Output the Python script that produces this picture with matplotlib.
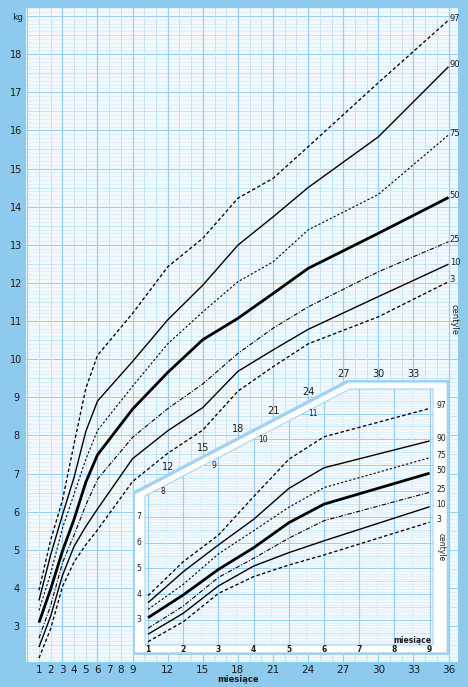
import matplotlib
matplotlib.use('Agg')
import matplotlib.pyplot as plt
from matplotlib.patches import Polygon
import matplotlib.transforms as mtransforms
import numpy as np

# ---------------- data ----------------
months = [1, 2, 3, 4, 5, 6, 9, 12, 15, 18, 21, 24, 30, 36]
p97 = [3.94, 5.26, 6.29, 7.78, 9.23, 10.10, 11.20, 12.42, 13.17, 14.22, 14.74, 15.57, 17.25, 18.89]
p90 = [3.67, 4.87, 5.91, 6.90, 8.10, 8.90, 9.94, 11.03, 11.94, 12.99, 13.73, 14.50, 15.83, 17.67]
p75 = [3.41, 4.38, 5.56, 6.46, 7.37, 8.13, 9.29, 10.40, 11.24, 12.03, 12.55, 13.39, 14.32, 15.88]
p50 = [3.09, 3.97, 4.96, 5.80, 6.77, 7.49, 8.69, 9.65, 10.51, 11.07, 11.72, 12.38, 13.30, 14.24]
p25 = [2.68, 3.54, 4.65, 5.39, 6.17, 6.85, 7.95, 8.70, 9.35, 10.15, 10.81, 11.37, 12.29, 13.08]
p10 = [2.45, 3.26, 4.32, 5.09, 5.61, 6.07, 7.39, 8.12, 8.73, 9.68, 10.24, 10.78, 11.64, 12.49]
p3 = [2.16, 2.93, 4.03, 4.68, 5.13, 5.52, 6.79, 7.53, 8.14, 9.16, 9.80, 10.40, 11.11, 12.03]
centile_names = ['97', '90', '75', '50', '25', '10', '3']
centile_values = [p97, p90, p75, p50, p25, p10, p3]

main_xticks = [1, 2, 3, 4, 5, 6, 7, 8, 9, 12, 15, 18, 21, 24, 27, 30, 33, 36]
main_yticks = list(range(3, 19))
inset_months_max = 9
inset_xticks = [1, 2, 3, 4, 5, 6, 7, 8, 9]
inset_yticks_left = [3, 4, 5, 6, 7]
inset_yticks_diag = [8, 9, 10, 11]
diag_month_labels = [12, 15, 18, 21, 24, 27, 30, 33]

# ---------------- style ----------------
FRAME = '#8ecaee'
FACE = '#f2f9fe'
MAJ = '#9acdee'
MID = '#bcdff5'
MIN = '#d6ebf9'
BORDER = '#a3d2f1'
TXT = '#1c1c1c'

styles = {
    '97': dict(ls=(0, (2.6, 1.8)), lw=0.95),
    '90': dict(ls='-', lw=1.0),
    '75': dict(ls=(0, (2, 1.8)), lw=0.8),
    '50': dict(ls='-', lw=2.0),
    '25': dict(ls=(0, (4, 1.5, 1, 1.5)), lw=0.8),
    '10': dict(ls='-', lw=1.0),
    '3': dict(ls=(0, (2.6, 1.8)), lw=0.95),
}

W, H = 468, 687
fig = plt.figure(figsize=(W / 100, H / 100), dpi=100, facecolor=FRAME)


def fig_rect(x0, y0, x1, y1):
    return [x0 / W, 1 - y1 / H, (x1 - x0) / W, (y1 - y0) / H]


# ---------------- main chart ----------------
ax = fig.add_axes(fig_rect(26, 8, 458, 662))
ax.set_facecolor(FACE)
ax.set_xlim(-0.11, 36.81)
ax.set_ylim(2.056, 19.21)
for s in ax.spines.values():
    s.set_visible(False)

x0, x1 = ax.get_xlim()
fine = np.round(np.arange(21, 193) / 10, 1)
minor_h = [v for v in fine if abs(v * 2 - round(v * 2)) > 1e-6]
half_h = [v for v in fine if abs(v * 2 - round(v * 2)) < 1e-6 and abs(v - round(v)) > 1e-6]
major_h = [v for v in fine if abs(v - round(v)) < 1e-6]
ax.hlines(minor_h, x0, x1, color=MIN, lw=0.45, zorder=1)
ax.hlines(half_h, x0, x1, color=MID, lw=0.55, zorder=1)
ax.hlines(major_h, x0, x1, color=MAJ, lw=0.7, zorder=1)
for m in range(0, 37):
    if m % 3 == 0:
        ax.axvline(m, color=MAJ, lw=0.9, zorder=1)
    else:
        ax.axvline(m, color=MID, lw=0.55, zorder=1)

for name, vals in zip(centile_names, centile_values):
    ax.plot(months, vals, color='black', zorder=3, solid_capstyle='butt', **styles[name])
    ax.text(36.1, vals[-1] + 0.05, name, fontsize=6, color=TXT, ha='left', va='center', zorder=4)

ax.set_xticks(main_xticks)
ax.set_xticklabels([str(v) for v in main_xticks])
ax.set_yticks(main_yticks)
ax.set_yticklabels([str(v) for v in main_yticks])
ax.tick_params(axis='both', length=0, labelsize=7.5, colors=TXT)
ax.tick_params(axis='x', pad=2.5)
ax.tick_params(axis='y', pad=7, labelsize=7)
for lbl in ax.get_yticklabels():
    lbl.set_ha('center')

fig.text(18 / W, 1 - 17 / H, 'kg', fontsize=6.5, color=TXT, ha='center', va='center')
fig.text(238.5 / W, 1 - 679 / H, 'miesiące', fontsize=6, color=TXT, ha='center', va='center',
         fontweight='bold')
fig.text(454 / W, 1 - 320 / H, 'centyle', fontsize=6, color=TXT, ha='center', va='center',
         rotation=270)

# ---------------- inset ----------------
def mx(px):
    return 1 + (px - 148) / 35.2


def ky(py):
    return 3 + (620 - py) / 25.8


axi = fig.add_axes(fig_rect(133, 380, 449, 655))
axi.set_xlim(mx(133), mx(449))
axi.set_ylim(ky(655), ky(380))
axi.axis('off')
axi.patch.set_alpha(0)

outer_px = [(133.3, 654), (133.3, 493.3), (348.3, 381), (448.3, 381), (448.3, 654)]
inner_px = [(145, 645), (145, 496), (350, 389), (433, 389), (433, 645)]
outer = Polygon([(mx(a), ky(b)) for a, b in outer_px], closed=True, facecolor='white',
                edgecolor=BORDER, lw=2.4, zorder=1)
inner = Polygon([(mx(a), ky(b)) for a, b in inner_px], closed=True, facecolor=FACE,
                edgecolor=BORDER, lw=0.8, zorder=2)
axi.add_patch(outer)
axi.add_patch(inner)

xa, xb = mx(145), mx(433)
ifine = np.round(np.arange(21, 120) / 10, 1)
i_minor = [v for v in ifine if abs(v - round(v)) > 1e-6 and abs(v * 2 - round(v * 2)) > 1e-6]
i_half = [v for v in ifine if abs(v * 2 - round(v * 2)) < 1e-6 and abs(v - round(v)) > 1e-6]
i_major = [v for v in ifine if abs(v - round(v)) < 1e-6]
grid_artists = []
grid_artists.append(axi.hlines(i_minor, xa, xb, color=MIN, lw=0.4, zorder=2.5))
grid_artists.append(axi.hlines(i_half, xa, xb, color=MID, lw=0.5, zorder=2.5))
grid_artists.append(axi.hlines(i_major, xa, xb, color=MAJ, lw=0.7, zorder=2.5))
for m in np.arange(1, 9.01, 0.5):
    if abs(m - round(m)) < 1e-6:
        grid_artists.append(axi.axvline(m, color=MAJ, lw=0.85, zorder=2.5))
    else:
        grid_artists.append(axi.axvline(m, color=MIN, lw=0.5, zorder=2.5))
for g in grid_artists:
    g.set_clip_path(inner)

n_in = sum(1 for m in months if m <= inset_months_max)
for name, vals in zip(centile_names, centile_values):
    ln, = axi.plot(months[:n_in], vals[:n_in], color='black', zorder=3,
                   solid_capstyle='butt', **styles[name])
    ln.set_clip_path(inner)
    axi.text(mx(436.5), vals[n_in - 1] + 0.1, name, fontsize=5.5, color=TXT,
             ha='left', va='center', zorder=4)

for v in inset_xticks:
    axi.text(v, ky(649.5), str(v), fontsize=5.5, color=TXT, ha='center', va='center',
             fontweight='bold', zorder=4)
for v in inset_yticks_left:
    axi.text(mx(139), v, str(v), fontsize=5.5, color=TXT, ha='center', va='center', zorder=4)
diag_x_px = [162.7, 214.3, 263.3, 313.3]
for v, xp in zip(inset_yticks_diag, diag_x_px):
    axi.text(mx(xp), v, str(v), fontsize=5.5, color=TXT, ha='center', va='center', zorder=4)

axi.text(mx(412.5), ky(640.5), 'miesiące', fontsize=5.5, color=TXT, ha='center',
         va='center', fontweight='bold', zorder=4)
axi.text(mx(441), ky(547), 'centyle', fontsize=5.5, color=TXT, ha='center', va='center',
         rotation=270, zorder=4)

# month labels along the inset's diagonal edge (main chart months)
trans = mtransforms.blended_transform_factory(ax.transData, fig.transFigure)
diag_y_px = [466.7, 448.3, 429.3, 410.7, 392.3, 374.3, 374.3, 374.3]
for v, yp in zip(diag_month_labels, diag_y_px):
    fig.text(v, 1 - yp / H, str(v), transform=trans, fontsize=7, color=TXT,
             ha='center', va='center', zorder=5)

fig.savefig('out.png', dpi=100, facecolor=FRAME)
